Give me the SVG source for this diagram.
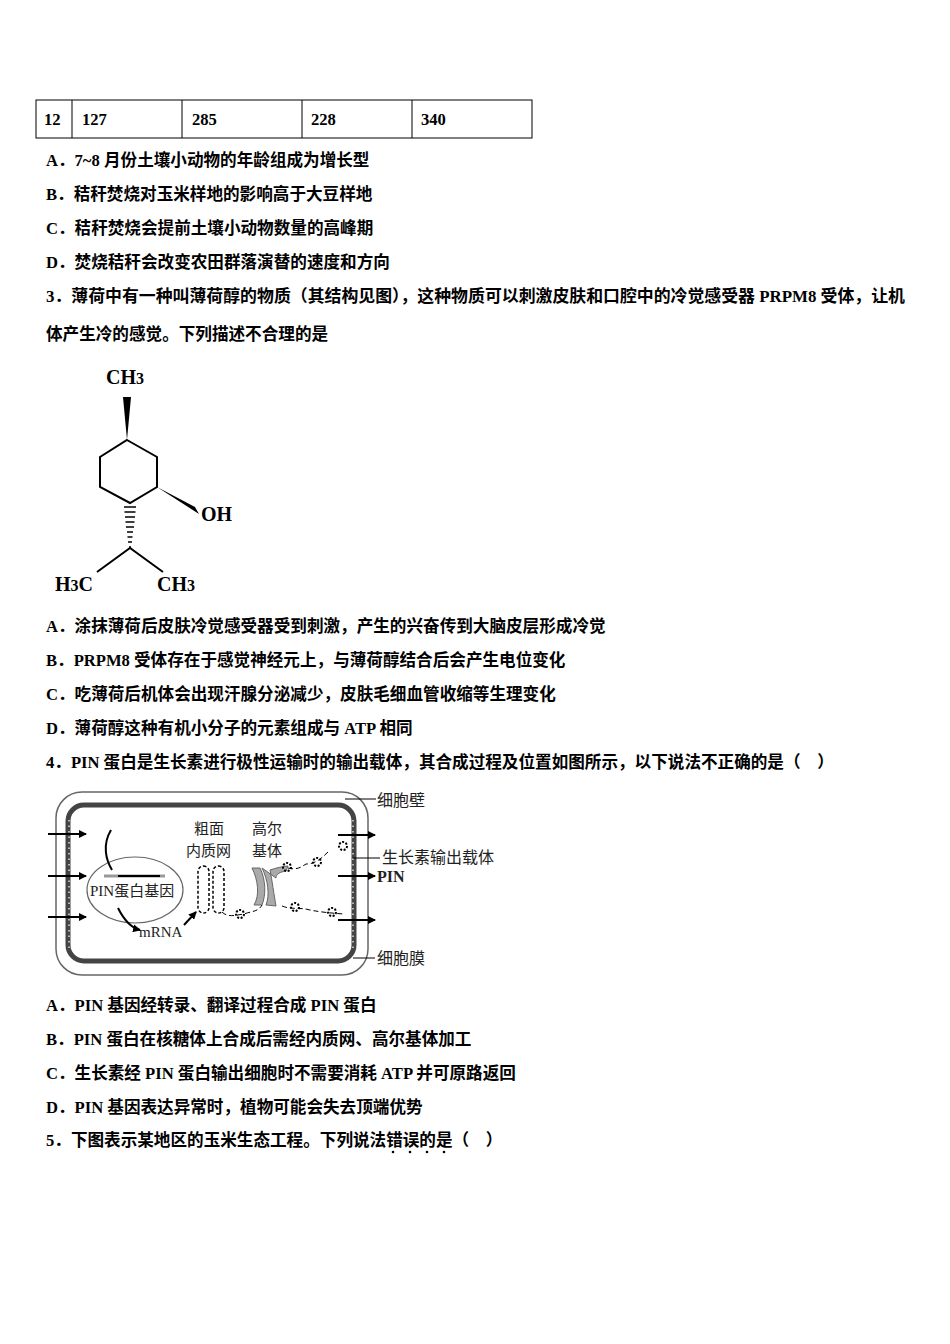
<svg xmlns="http://www.w3.org/2000/svg" width="950" height="1344" viewBox="0 0 950 1344">
<style>
.t{font-family:"Liberation Serif","Noto Sans CJK SC",serif;font-size:16.6px;font-weight:bold;fill:#000}
.c{font-family:"Noto Sans CJK SC",sans-serif;font-size:16px;fill:#222}
.s{font-family:"Noto Sans CJK SC",sans-serif;font-size:15px;fill:#222}
.r{font-family:"Liberation Serif",serif;fill:#222}
.m{font-family:"Liberation Serif",serif;font-size:20px;font-weight:bold;fill:#000}
.ln{stroke:#000;stroke-width:2;fill:none}
.a{stroke:#000;stroke-width:2;fill:none;marker-end:url(#ah)}
</style>
<defs>
<marker id="ah" markerWidth="8" markerHeight="8" refX="7" refY="4" orient="auto" markerUnits="userSpaceOnUse"><path d="M0,0 L8,4 L0,8 z" fill="#000"/></marker>
<g id="flw"><circle r="4" fill="none" stroke="#000" stroke-width="2" stroke-dasharray="2 1.5"/></g>
</defs>
<rect width="950" height="1344" fill="#fff"/>
<g id="table" stroke="#000" stroke-width="1" fill="none">
<rect x="36" y="100" width="496" height="38"/>
<path d="M72 100V138M182 100V138M302 100V138M412 100V138"/>
</g>
<g class="t"><text x="44" y="125">12</text><text x="82" y="125">127</text><text x="192" y="125">285</text><text x="311" y="125">228</text><text x="421" y="125">340</text></g>
<g id="text" class="t">
<text x="46" y="166">A．7~8 月份土壤小动物的年龄组成为增长型</text>
<text x="46" y="200">B．秸秆焚烧对玉米样地的影响高于大豆样地</text>
<text x="46" y="234">C．秸秆焚烧会提前土壤小动物数量的高峰期</text>
<text x="46" y="268">D．焚烧秸秆会改变农田群落演替的速度和方向</text>
<text x="46" y="302" textLength="859" lengthAdjust="spacingAndGlyphs">3．薄荷中有一种叫薄荷醇的物质（其结构见图），这种物质可以刺激皮肤和口腔中的冷觉感受器 PRPM8 受体，让机</text>
<text x="46" y="340">体产生冷的感觉。下列描述不合理的是</text>
<text x="46" y="632">A．涂抹薄荷后皮肤冷觉感受器受到刺激，产生的兴奋传到大脑皮层形成冷觉</text>
<text x="46" y="666">B．PRPM8 受体存在于感觉神经元上，与薄荷醇结合后会产生电位变化</text>
<text x="46" y="700">C．吃薄荷后机体会出现汗腺分泌减少，皮肤毛细血管收缩等生理变化</text>
<text x="46" y="734">D．薄荷醇这种有机小分子的元素组成与 ATP 相同</text>
<text x="46" y="768">4．PIN 蛋白是生长素进行极性运输时的输出载体，其合成过程及位置如图所示，以下说法不正确的是（　）</text>
<text x="46" y="1011">A．PIN 基因经转录、翻译过程合成 PIN 蛋白</text>
<text x="46" y="1045">B．PIN 蛋白在核糖体上合成后需经内质网、高尔基体加工</text>
<text x="46" y="1079">C．生长素经 PIN 蛋白输出细胞时不需要消耗 ATP 并可原路返回</text>
<text x="46" y="1113">D．PIN 基因表达异常时，植物可能会失去顶端优势</text>
<text x="46" y="1146">5．下图表示某地区的玉米生态工程。下列说法错误的是（　）</text>
</g>
<g id="dots" fill="#000"><circle cx="393" cy="1152" r="1.3"/><circle cx="410" cy="1152" r="1.3"/><circle cx="427" cy="1152" r="1.3"/><circle cx="444" cy="1152" r="1.3"/></g>
<g id="molecule">
<path class="ln" d="M127 440L157 457L157 487L130 503L100 487L100 457Z"/>
<path d="M127 440L123 397L131 397Z" fill="#000"/>
<path d="M157 487L195 507L199 514Z" fill="#000"/>
<path d="M124 507h12M124.5 512h11M125 517h10M125.5 522h9M126 527h8M127 532h6M127.5 537h5M128 542h4M129 547h2" stroke="#000" stroke-width="1.5"/>
<path class="ln" d="M97 572L130 548L163 572"/>
<text class="m" x="106" y="384">CH<tspan font-size="16">3</tspan></text>
<text class="m" x="201" y="521">OH</text>
<text class="m" x="55" y="591">H<tspan font-size="16">3</tspan>C</text>
<text class="m" x="157" y="591">CH<tspan font-size="16">3</tspan></text>
</g>
<g id="cell">
<rect x="56" y="792" width="312" height="183" rx="26" fill="none" stroke="#666" stroke-width="1.5"/>
<rect x="68" y="805" width="286" height="156" rx="16" fill="none" stroke="#444" stroke-width="5"/>
<path d="M69 820V950M353 820V950" stroke="#fff" stroke-width="1.2" stroke-dasharray="1.5 4"/>
<ellipse cx="135" cy="890" rx="48" ry="33" fill="none" stroke="#666" stroke-width="1.2"/>
<path d="M104 876H165" stroke="#999" stroke-width="3"/><path d="M118 876H160" stroke="#000" stroke-width="2"/>
<text class="s" x="90" y="896" font-size="14"><tspan class="r">PIN</tspan>蛋白基因</text>
<text class="r" x="139" y="937" font-size="15">mRNA</text>
<text class="s" x="194" y="834" font-size="14.5">粗面</text><text class="s" x="186" y="856" font-size="14.5">内质网</text>
<text class="s" x="252" y="834" font-size="14.5">高尔</text><text class="s" x="252" y="856" font-size="14.5">基体</text>
<rect x="198" y="866" width="11" height="47" rx="5.5" fill="none" stroke="#000" stroke-width="1.5" stroke-dasharray="3 2"/>
<rect x="213" y="866" width="11" height="47" rx="5.5" fill="none" stroke="#000" stroke-width="1.5" stroke-dasharray="3 2"/>
<path d="M252 868C258 880 260 895 254 905L262 905C266 895 266 880 260 868ZM262 868C268 880 270 895 266 905L276 906C274 895 272 880 270 870C276 868 284 866 288 866L286 871C280 872 276 874 276 878Z" fill="#aaa" stroke="#666" stroke-width="1"/>
<path class="ln" d="M111 830C102 845 106 860 112 870" stroke-width="1"/>
<path class="a" d="M118 908C124 920 132 928 140 930" stroke-width="1"/>
<path class="a" d="M184 925L196 912" stroke-width="1"/>
<path d="M222 912C228 918 236 915 244 914C252 911 258 912 262 905M288 868C296 870 300 868 306 864C314 864 320 860 328 852M282 906C292 910 300 907 310 910C320 912 330 913 344 914" stroke="#000" stroke-width="1" fill="none" stroke-dasharray="5 3"/>
<use href="#flw" x="240" y="914"/><use href="#flw" x="317" y="862"/><use href="#flw" x="343" y="846"/><use href="#flw" x="295" y="907"/><use href="#flw" x="332" y="912"/><use href="#flw" x="287" y="867"/>
<g stroke-width="2"><path class="a" d="M48 834H86"/><path class="a" d="M48 876H86"/><path class="a" d="M48 917H86"/><path class="a" d="M338 835H375"/><path class="a" d="M338 876H375"/><path class="a" d="M338 920H375"/></g>
<path d="M345 799H376M353 858H380M353 958H375" stroke="#000" stroke-width="1"/>
<text class="c" x="377" y="806">细胞壁</text>
<text class="c" x="382" y="863">生长素输出载体</text>
<text class="r" x="377" y="882" font-size="16" font-weight="bold">PIN</text>
<text class="c" x="377" y="964">细胞膜</text>
</g>
</svg>
